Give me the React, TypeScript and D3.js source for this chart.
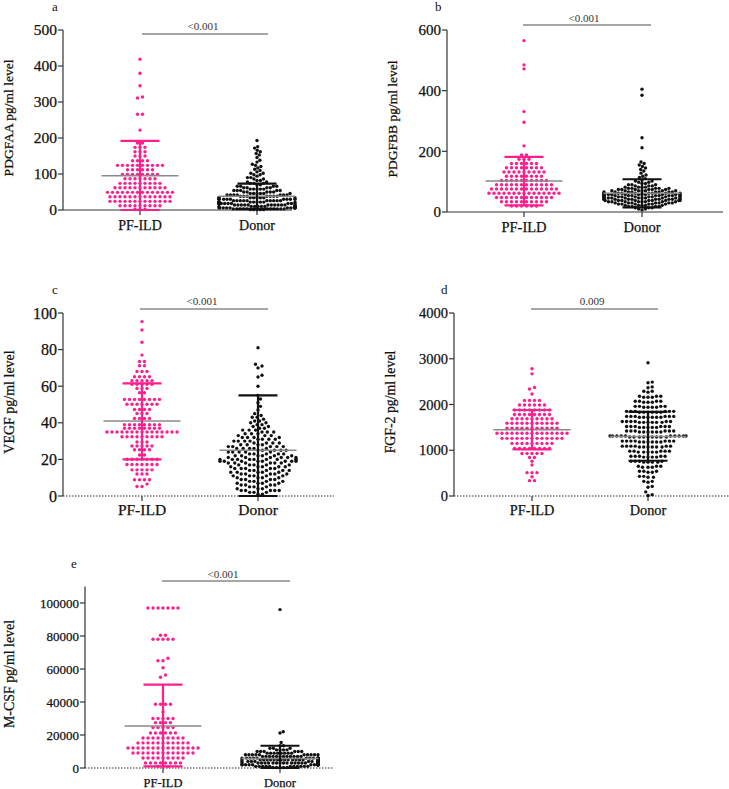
import React from 'react';
import * as d3 from 'd3';

const PINK = '#ff1f8c';
const BLACK = '#111111';
const GRAY = '#8a8a8a';
const AXIS = '#333333';
const FONT = '"Liberation Serif", "Times New Roman", serif';

const categories = ['PF-ILD', 'Donor'];

// Each group is a table of [value, number of dots at that value].

// ---- Panel a: PDGFAA ----
const aPF = [[419,1],[380,1],[345,1],[314,1],[311,1],[266,2],[222,1],[186,2],[174,3],[162,3],[150,3],[137,4],[124,10],[112,6],[99,8],[87,7],[74,9],[62,11],[49,14],[37,13],[24,13],[12,9],[2,3]];
const aDonor = [[193,1],[176,1],[172,1],[166,1],[162,1],[157,1],[153,1],[146,1],[138,1],[133,1],[127,1],[124,1],[121,1],[117,1],[113,1],[110,1],[106,1],[102,2],[98,2],[94,1],[90,2],[86,2],[82,2],[78,2],[74,3],[70,2],[66,4],[62,4],[58,5],[54,5],[50,5],[46,6],[42,7],[38,7],[34,8],[30,9],[26,10],[22,11],[18,12],[14,12],[10,12],[6,13],[3,11],[1,5]];
const aMean = [95, 38];
const aUpper = [192, 73];
const aLower = [0, 3];
const aTicks = [0, 100, 200, 300, 400, 500];

// ---- Panel b: PDGFBB ----
const bPF = [[565,1],[485,1],[472,1],[331,1],[296,1],[218,1],[188,2],[174,3],[160,6],[146,8],[132,9],[118,8],[104,10],[90,12],[76,14],[62,15],[48,12],[34,10],[20,6]];
const bDonor = [[405,1],[385,1],[245,1],[212,1],[165,1],[160,1],[155,1],[150,1],[145,1],[140,1],[135,1],[128,1],[122,1],[118,1],[114,1],[110,1],[106,1],[102,2],[98,2],[94,2],[90,3],[86,3],[82,4],[78,5],[74,6],[70,7],[66,8],[62,9],[58,10],[54,10],[50,10],[46,10],[42,10],[38,9],[34,8],[30,7],[26,6],[22,5],[18,4],[14,3],[10,2],[7,1]];
const bMean = [102, 62];
const bUpper = [182, 108];
const bLower = [22, 15];
const bTicks = [0, 200, 400, 600];

// ---- Panel c: VEGF ----
const cPF = [[95.3,1],[90.7,1],[84,1],[77,1],[73.5,2],[71.2,2],[68,3],[65.2,4],[63,5],[61,5],[58.8,3],[56.4,2],[52.8,8],[50.1,7],[47.3,4],[45.1,3],[42.4,4],[39,8],[37,8],[35,15],[32.4,9],[29.5,3],[27.3,5],[25.3,4],[22.4,2],[20.1,7],[17.2,7],[14.3,5],[12,3],[8.9,4],[6.5,1],[5.2,2]];
const cDonor = [[81,1],[72,1],[71,1],[70,1],[66,1],[65,1],[60,1],[55,1],[53,1],[51,1],[49,1],[47,1],[45,1],[44,1],[43,2],[42,1],[41,2],[40,2],[39,2],[38,2],[37,2],[36,3],[35,3],[34,3],[33,3],[32,4],[31,4],[30,4],[29,4],[28,4],[27,5],[26,5],[25,5],[24,5],[23,5],[22,6],[21,6],[20,9],[19,8],[18,6],[17,5],[16,5],[15,5],[14,5],[13,5],[12,5],[11,5],[10,4],[9,4],[8,4],[7,4],[6,4],[5,3],[4,3],[3,5],[2,3],[1,2]];
const cMean = [41, 25];
const cUpper = [61.5, 55];
const cLower = [20, 0];
const cTicks = [0, 20, 40, 60, 80, 100];

// ---- Panel d: FGF-2 ----
const dPF = [[2780,1],[2670,1],[2370,1],[2340,1],[2230,1],[2090,4],[1990,6],[1880,8],[1780,8],[1690,9],[1590,11],[1480,11],[1370,15],[1260,13],[1150,9],[1040,8],[930,5],[840,2],[760,1],[680,1],[510,3],[420,1],[335,2]];
const dDonor = [[2914,1],[2490,1],[2475,1],[2385,1],[2365,1],[2290,2],[2270,1],[2180,3],[2160,3],[2070,4],[2050,3],[1960,4],[1940,4],[1850,6],[1830,6],[1740,6],[1720,6],[1630,6],[1610,6],[1520,6],[1500,5],[1420,6],[1400,6],[1310,10],[1290,9],[1200,7],[1180,6],[1090,6],[1070,6],[980,5],[960,5],[870,5],[850,4],[760,4],[740,4],[650,3],[630,3],[540,3],[520,2],[430,2],[410,2],[320,2],[300,1],[210,1],[190,1],[90,1],[30,1],[10,1]];
const dMean = [1450, 1300];
const dUpper = [1880, 1840];
const dLower = [1020, 770];
const dTicks = [0, 1000, 2000, 3000, 4000];

// ---- Panel e: M-CSF ----
const ePF = [[97000,7],[80500,2],[78000,5],[66500,1],[65000,2],[60800,1],[56400,1],[55000,1],[38600,4],[34000,1],[30000,5],[27500,4],[24500,5],[21200,6],[18200,9],[15200,11],[12100,15],[9100,13],[6100,9],[3000,8],[1000,3]];
const eDonor = [[96000,1],[22000,1],[21200,1],[15500,1],[13500,2],[12000,3],[11000,4],[10000,6],[9000,8],[8000,10],[7000,12],[6000,16],[5000,19],[4000,20],[3000,19],[2000,16],[1000,11],[300,5]];
const eMean = [25500, 5800];
const eUpper = [50500, 13500];
const eLower = [1000, 0];
const eTicks = [0, 20000, 40000, 60000, 80000, 100000];

type PanelCfg = {
  letter: string; letterX: number; letterY: number;
  yLabel: string; yLabelX: number; yLabelY: number; yLabelSize: number;
  axisX: number; yTop: number; yBottom: number; domainMax: number; axisTopVal: number;
  xEnd: number; dotted: boolean; donorDiam: number;
  cx: number[]; catY: number; catSize: number; tickSize: number;
  ticks: number[];
  pf: number[][]; donor: number[][]; mean: number[]; upper: number[]; lower: number[];
  sigY: number; sigX1: number; sigX2: number; pText: string; pX: number; pY: number;
};

const panels: PanelCfg[] = [
  { letter: 'a', letterX: 52, letterY: 11, yLabel: 'PDGFAA pg/ml level', yLabelX: 13, yLabelY: 118, yLabelSize: 13.5,
    axisX: 63, yTop: 30, yBottom: 210, domainMax: 500, axisTopVal: 500, xEnd: 292, dotted: false, donorDiam: 3.4,
    cx: [140, 257], catY: 230, catSize: 14, tickSize: 15.5, ticks: aTicks,
    pf: aPF, donor: aDonor, mean: aMean, upper: aUpper, lower: aLower,
    sigY: 34, sigX1: 142, sigX2: 268, pText: '<0.001', pX: 203, pY: 30 },
  { letter: 'b', letterX: 435, letterY: 11, yLabel: 'PDGFBB pg/ml level', yLabelX: 397, yLabelY: 119, yLabelSize: 13.5,
    axisX: 447, yTop: 30, yBottom: 212, domainMax: 600, axisTopVal: 600, xEnd: 723, dotted: false, donorDiam: 3.5,
    cx: [524, 642], catY: 232, catSize: 14.5, tickSize: 15, ticks: bTicks,
    pf: bPF, donor: bDonor, mean: bMean, upper: bUpper, lower: bLower,
    sigY: 25, sigX1: 523, sigX2: 651, pText: '<0.001', pX: 584, pY: 21.5 },
  { letter: 'c', letterX: 52, letterY: 294, yLabel: 'VEGF pg/ml level', yLabelX: 13.5, yLabelY: 402, yLabelSize: 14,
    axisX: 63, yTop: 313, yBottom: 496, domainMax: 100, axisTopVal: 100, xEnd: 334, dotted: true, donorDiam: 4.4,
    cx: [142, 258], catY: 515, catSize: 15.5, tickSize: 16, ticks: cTicks,
    pf: cPF, donor: cDonor, mean: cMean, upper: cUpper, lower: cLower,
    sigY: 309, sigX1: 140, sigX2: 268, pText: '<0.001', pX: 202, pY: 305 },
  { letter: 'd', letterX: 441, letterY: 294, yLabel: 'FGF-2 pg/ml level', yLabelX: 395, yLabelY: 402, yLabelSize: 13.8,
    axisX: 454, yTop: 313, yBottom: 496, domainMax: 4000, axisTopVal: 4000, xEnd: 729, dotted: true, donorDiam: 4.3,
    cx: [532, 648], catY: 515, catSize: 14.3, tickSize: 14.5, ticks: dTicks,
    pf: dPF, donor: dDonor, mean: dMean, upper: dUpper, lower: dLower,
    sigY: 309, sigX1: 531, sigX2: 658, pText: '0.009', pX: 592, pY: 305 },
  { letter: 'e', letterX: 71, letterY: 568, yLabel: 'M-CSF pg/ml level', yLabelX: 13.5, yLabelY: 674, yLabelSize: 13.9,
    axisX: 85, yTop: 603, yBottom: 768, domainMax: 100000, axisTopVal: 110000, xEnd: 333, dotted: true, donorDiam: 3.5,
    cx: [163, 280], catY: 787, catSize: 12.5, tickSize: 13, ticks: eTicks,
    pf: ePF, donor: eDonor, mean: eMean, upper: eUpper, lower: eLower,
    sigY: 581, sigX1: 162, sigX2: 290, pText: '<0.001', pX: 223, pY: 578 },
];

const PF_ROW_H = 3;
const PF_SPACING = 5;
const MAX_HALF = 38;
const R = 1.7;

function expand(table: number[][]) {
  const out: number[] = [];
  table.forEach(([v, n]) => { for (let i = 0; i < n; i++) out.push(v); });
  return out;
}

// Row layout (GraphPad-like) for PF-ILD
function rowSwarm(values: number[], y: (v: number) => number, cx: number) {
  const pts = values.map((v) => ({ v, y: y(v) })).sort((a, b) => b.y - a.y);
  const rows: { v: number; y: number }[][] = [];
  let cur: { v: number; y: number }[] = [];
  let startY = Infinity;
  pts.forEach((p) => {
    if (cur.length && startY - p.y >= PF_ROW_H) { rows.push(cur); cur = []; }
    if (!cur.length) startY = p.y;
    cur.push(p);
  });
  if (cur.length) rows.push(cur);
  const out: { x: number; y: number }[] = [];
  rows.forEach((arr) => {
    const n = arr.length;
    const s = n > 1 ? Math.min(PF_SPACING, (2 * MAX_HALF) / (n - 1)) : 0;
    const offs = d3.range(n).map((i) => (i - (n - 1) / 2) * s);
    offs.sort((a, b) => Math.abs(a) - Math.abs(b) || a - b);
    arr.forEach((p, i) => out.push({ x: cx + offs[i], y: p.y }));
  });
  return out;
}

// Dodge (beeswarm) layout for the dense Donor groups
function dodgeSwarm(values: number[], y: (v: number) => number, cx: number, diam: number) {
  const dd = diam * diam;
  const pts = values.map((v) => ({ p: y(v), o: 0 })).sort((a, b) => b.p - a.p);
  const placed: { p: number; o: number }[] = [];
  for (const b of pts) {
    const near = placed.filter((a) => Math.abs(a.p - b.p) < diam);
    const cands = [0];
    for (const a of near) {
      const dx = Math.sqrt(dd - (a.p - b.p) ** 2);
      cands.push(a.o + dx, a.o - dx);
    }
    cands.sort((u, v) => Math.abs(u) - Math.abs(v));
    let chosen = cands[cands.length - 1];
    for (const c of cands) {
      if (near.every((a) => (a.o - c) ** 2 + (a.p - b.p) ** 2 >= dd - 1e-6)) { chosen = c; break; }
    }
    b.o = Math.max(-MAX_HALF, Math.min(MAX_HALF, chosen));
    placed.push(b);
  }
  return placed.map((b) => ({ x: cx + b.o, y: b.p }));
}

function Panel({ p }: { p: PanelCfg }) {
  const y = d3.scaleLinear().domain([0, p.domainMax]).range([p.yBottom, p.yTop]);
  const x = d3.scaleOrdinal<string, number>().domain(categories).range(p.cx);
  const colors = [PINK, BLACK];
  const layouts = [
    rowSwarm(expand(p.pf), y, x(categories[0])),
    dodgeSwarm(expand(p.donor), y, x(categories[1]), p.donorDiam),
  ];
  const txt = { fontFamily: FONT, fill: '#111', stroke: '#111', strokeWidth: 0.25 };
  return (
    <g>
      <text x={p.letterX} y={p.letterY} fontSize={13} fontFamily={FONT} fill="#111">{p.letter}</text>
      <text transform={`translate(${p.yLabelX},${p.yLabelY}) rotate(-90)`} textAnchor="middle"
        fontSize={p.yLabelSize} {...txt}>{p.yLabel}</text>
      <line x1={p.axisX} x2={p.axisX} y1={y(p.axisTopVal)} y2={p.yBottom} stroke={AXIS} strokeWidth={1.2} />
      {p.ticks.map((t) => (
        <g key={t}>
          <line x1={p.axisX - 5} x2={p.axisX} y1={y(t)} y2={y(t)} stroke={AXIS} strokeWidth={1.2} />
          <text x={p.axisX - 6} y={y(t)} dy="0.35em" textAnchor="end" fontSize={p.tickSize} {...txt}>{t}</text>
        </g>
      ))}
      <line x1={p.axisX} x2={p.xEnd} y1={p.yBottom} y2={p.yBottom} stroke={AXIS}
        strokeWidth={p.dotted ? 1 : 1.2} strokeDasharray={p.dotted ? '1.5,1.5' : undefined} />
      {categories.map((c) => (
        <g key={c}>
          <line x1={x(c)} x2={x(c)} y1={p.yBottom} y2={p.yBottom + 5} stroke={AXIS} strokeWidth={1.2} />
          <text x={x(c)} y={p.catY} textAnchor="middle" fontSize={p.catSize} {...txt}>{c}</text>
        </g>
      ))}
      {layouts.map((pts, gi) =>
        pts.map((pt, i) => (
          <circle key={`${gi}-${i}`} cx={pt.x} cy={pt.y} r={R} fill={colors[gi]} />
        ))
      )}
      {categories.map((c, gi) => {
        const cx = x(c);
        return (
          <g key={'s' + c}>
            <line x1={cx - 38.5} x2={cx + 38.5} y1={y(p.mean[gi])} y2={y(p.mean[gi])} stroke={GRAY} strokeWidth={1.5} />
            <line x1={cx} x2={cx} y1={y(p.lower[gi])} y2={y(p.upper[gi])} stroke={colors[gi]} strokeWidth={2.2} />
            <line x1={cx - 19.5} x2={cx + 19.5} y1={y(p.upper[gi])} y2={y(p.upper[gi])} stroke={colors[gi]} strokeWidth={2.2} />
            <line x1={cx - 19.5} x2={cx + 19.5} y1={y(p.lower[gi])} y2={y(p.lower[gi])} stroke={colors[gi]} strokeWidth={2.2} />
          </g>
        );
      })}
      <line x1={p.sigX1} x2={p.sigX2} y1={p.sigY} y2={p.sigY} stroke={GRAY} strokeWidth={1.5} />
      <text x={p.pX} y={p.pY} textAnchor="middle" fontSize={11} fontFamily={FONT} fill="#333">{p.pText}</text>
    </g>
  );
}

export default function App() {
  return (
    <svg width={729} height={789} style={{ position: 'absolute', left: 0, top: 0, background: '#fff' }}>
      <rect width={729} height={789} fill="#fff" />
      {panels.map((p) => (
        <Panel key={p.letter} p={p} />
      ))}
    </svg>
  );
}
